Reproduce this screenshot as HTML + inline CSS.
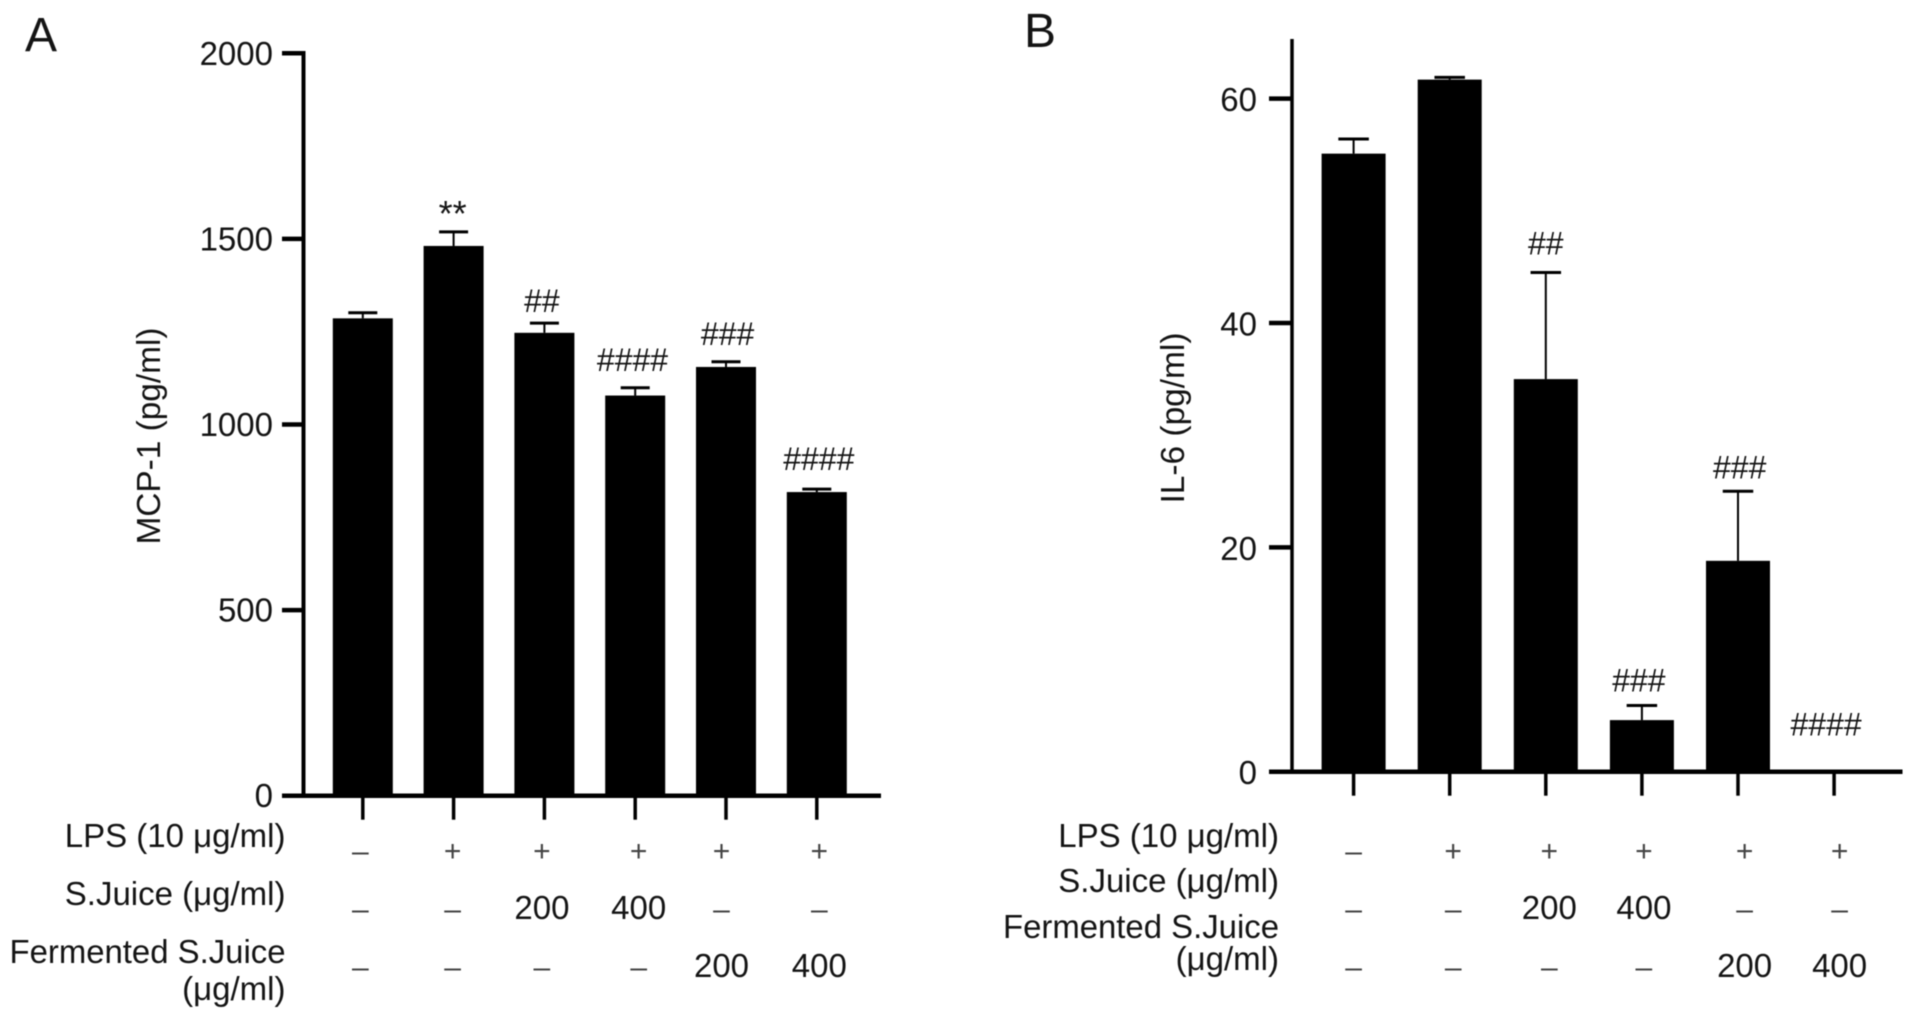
<!DOCTYPE html>
<html lang="en">
<head>
<meta charset="utf-8">
<title>MCP-1 and IL-6 bar charts</title>
<style>
html,body{margin:0;padding:0;background:#fff;}
#figure{display:block;width:1913px;height:1020px;filter:blur(.5px);font-family:"Liberation Sans",Arial,sans-serif;fill:#141414;}
text{font-family:"Liberation Sans",Arial,sans-serif;}
</style>
</head>
<body>
<svg id="figure" xmlns="http://www.w3.org/2000/svg" width="1913" height="1020" viewBox="0 0 1913 1020">
  <rect x="0" y="0" width="1913" height="1020" fill="#fff"/>
  <g id="panel-a">
    <text x="25" y="51" font-size="48">A</text>
    <text transform="translate(160,436) rotate(-90)" text-anchor="middle" font-size="33" textLength="217" lengthAdjust="spacingAndGlyphs">MCP-1 (pg/ml)</text>
    <text x="285.5" y="847" text-anchor="end" font-size="33">LPS (10 μg/ml)</text>
    <text x="285.5" y="905" text-anchor="end" font-size="33">S.Juice (μg/ml)</text>
    <text x="285.5" y="963" text-anchor="end" font-size="33" textLength="276" lengthAdjust="spacingAndGlyphs">Fermented S.Juice</text>
    <text x="285.5" y="1000" text-anchor="end" font-size="33">(μg/ml)</text>
  </g>
  <g id="panel-b">
    <text x="1024" y="47" font-size="48">B</text>
    <text transform="translate(1184,418) rotate(-90)" text-anchor="middle" font-size="33" textLength="171" lengthAdjust="spacingAndGlyphs">IL-6 (pg/ml)</text>
    <text x="1279" y="847" text-anchor="end" font-size="33">LPS (10 μg/ml)</text>
    <text x="1279" y="892" text-anchor="end" font-size="33">S.Juice (μg/ml)</text>
    <text x="1279" y="938" text-anchor="end" font-size="33" textLength="276" lengthAdjust="spacingAndGlyphs">Fermented S.Juice</text>
    <text x="1279" y="970" text-anchor="end" font-size="33">(μg/ml)</text>
  </g>
</svg>
<script>
// Chart data
const lpsRow = ['–', '+', '+', '+', '+', '+'];
const juiceRow = ['–', '–', '200', '400', '–', '–'];
const fermentedRow = ['–', '–', '–', '–', '200', '400'];

const mcpTicks = [0, 500, 1000, 1500, 2000];
const mcpMeans = [1286, 1481, 1247, 1078, 1155, 818];
const mcpUpper = [1301, 1519, 1273, 1099, 1169, 826];
const mcpStats = ['', '**', '##', '####', '###', '####'];

const il6Ticks = [0, 20, 40, 60];
const il6Means = [55.1, 61.7, 35.0, 4.6, 18.8, 0];
const il6Upper = [56.4, 61.9, 44.5, 5.9, 25.0, 0];
const il6Stats = ['', '', '##', '###', '###', '####'];

// Drawing
const NS = 'http://www.w3.org/2000/svg';

function mk(tag, attrs, parent, content) {
  const el = document.createElementNS(NS, tag);
  for (const k in attrs) el.setAttribute(k, attrs[k]);
  if (content !== undefined) el.textContent = content;
  parent.appendChild(el);
  return el;
}

function linearAxis(zeroPx, pxPerUnit) {
  return function (v) { return zeroPx - v * pxPerUnit; };
}

function bandAxis(firstCenter, step) {
  return function (i) { return firstCenter + i * step; };
}

function drawPanel(panel, ticks, means, upper, stats, L) {
  const y = linearAxis(L.zero, L.pxPerUnit);
  const x = bandAxis(L.firstCenter, L.step);
  const ink = '#000';

  means.forEach(function (v, i) {
    const bar = mk('rect', { x: x(i) - L.barWidth / 2, y: y(v), width: L.barWidth, height: Math.max(0, L.zero - y(v)), fill: ink }, panel);
    
    

    if (upper[i] > v) {
      const stem = mk('line', { x1: x(i), x2: x(i), y1: y(v), y2: y(upper[i]), stroke: ink, 'stroke-width': 2 }, panel);
      
      
      const cap = mk('line', { x1: x(i) - L.capWidth / 2, x2: x(i) + L.capWidth / 2, y1: y(upper[i]), y2: y(upper[i]), stroke: ink, 'stroke-width': 3 }, panel);
      
      
    }

    const xt = mk('line', { x1: x(i), x2: x(i), y1: L.zero, y2: L.zero + L.xTickLen, stroke: ink, 'stroke-width': 3.5 }, panel);
    
    

    if (stats[i]) {
      const isStar = stats[i].charAt(0) === '*';
      const s = mk('text', { x: x(i) + L.statNudgeX[i], y: y(upper[i]) - L.statGap[i] + (isStar ? 18 : 10), 'text-anchor': 'middle', 'font-size': isStar ? 36 : 32 }, panel, stats[i]);
      
      
    }
  });

  const yLine = mk('line', { x1: L.axisX, x2: L.axisX, y1: L.axisTop, y2: L.zero + 2, stroke: ink, 'stroke-width': L.axisW }, panel);
  
  

  const xLine = mk('line', { x1: L.tickLeft, x2: L.axisEnd, y1: L.zero, y2: L.zero, stroke: ink, 'stroke-width': 4.5 }, panel);
  
  

  ticks.forEach(function (t) {
    const tk = mk('line', { x1: L.tickLeft, x2: L.axisX, y1: y(t), y2: y(t), stroke: ink, 'stroke-width': 4.5 }, panel);
    
    
    const lb = mk('text', { x: L.tickLabelX, y: y(t) + L.tickLabelDy, 'text-anchor': 'end', 'font-size': 33 }, panel, String(t));
    
    
  });

  [lpsRow, juiceRow, fermentedRow].forEach(function (row, r) {
    row.forEach(function (val, i) {
      const numeric = val.length > 1;
      const c = mk('text', { x: x(i) + L.rowNudgeX[i], y: L.rowBase[r], 'text-anchor': 'middle', 'font-size': numeric ? 33 : 30, fill: numeric ? '#141414' : '#444' }, panel, val);
      
      
    });
  });
}

drawPanel(document.getElementById('panel-a'), mcpTicks, mcpMeans, mcpUpper, mcpStats, {
  zero: 795.7, pxPerUnit: 0.3712, firstCenter: 362.8, step: 90.8, barWidth: 60, capWidth: 29,
  axisX: 303.5, axisW: 4, axisTop: 51, axisEnd: 881, tickLeft: 282, tickLabelX: 273, tickLabelDy: 11.5, xTickLen: 24,
  statGap: [0, 23.7, 21, 27, 27, 29],
  statNudgeX: [0, -1, -2.5, -2.7, 1.6, 2],
  rowNudgeX: [-2.5, -1, -2.5, 3.5, -4.5, 2.5],
  rowBase: [861, 919, 977]
});

drawPanel(document.getElementById('panel-b'), il6Ticks, il6Means, il6Upper, il6Stats, {
  zero: 771.7, pxPerUnit: 11.217, firstCenter: 1353.6, step: 96.1, barWidth: 64, capWidth: 30.5,
  axisX: 1292, axisW: 3.5, axisTop: 39, axisEnd: 1902.5, tickLeft: 1269, tickLabelX: 1257, tickLabelDy: 12.5, xTickLen: 24,
  statGap: [0, 0, 28, 24, 23, 46],
  statNudgeX: [0, 0, 0, -3, 1.7, -8],
  rowNudgeX: [0, 3.5, 3.5, 2, 6.6, 5.5],
  rowBase: [861, 919, 977]
});
</script>
</body>
</html>
